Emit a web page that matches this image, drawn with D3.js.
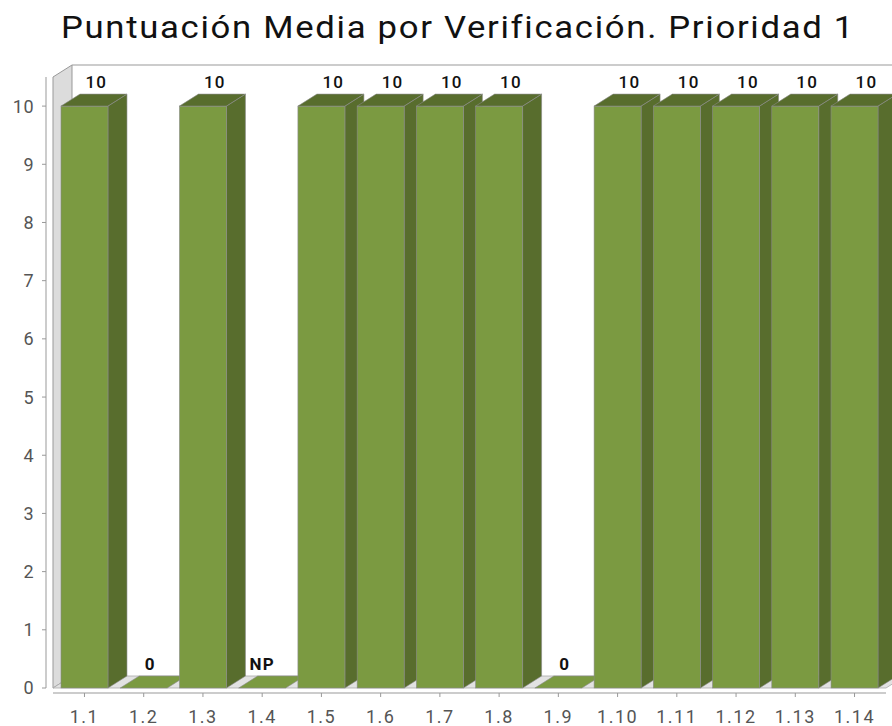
<!DOCTYPE html>
<html>
<head>
<meta charset="utf-8">
<script src="https://cdn.jsdelivr.net/npm/d3@7"></script>
<style>
  body { margin: 0; background: #fff; }
  text { font-family: Roboto, "Noto Sans", sans-serif; }
</style>
</head>
<body>
<svg width="892" height="726"></svg>
<script>
var categories = ["1.1", "1.2", "1.3", "1.4", "1.5", "1.6", "1.7", "1.8", "1.9", "1.10", "1.11", "1.12", "1.13", "1.14"];
// "NP" = no puntuado, drawn as a flat bar
var values = [10, 0, 10, "NP", 10, 10, 10, 10, 0, 10, 10, 10, 10, 10];
var yTicks = [0, 1, 2, 3, 4, 5, 6, 7, 8, 9, 10];
var title = "Puntuación Media por Verificación. Prioridad 1";

var svg = d3.select("svg"),
    width = +svg.attr("width"),
    height = +svg.attr("height");

// 3d depth offset
var dx = 19, dy = 12;
var front = {left: 53, right: 886, top: 77, bottom: 688};

var x = d3.scaleBand()
    .domain(categories)
    .range([front.left, front.right])
    .paddingInner(0.207)
    .paddingOuter(0.135);

var y = d3.scaleLinear()
    .domain([0, 10.5])
    .range([front.bottom, front.top]);

var green = "#7b9a41", darkGreen = "#586d2d", edge = "#8a8a8a";

function num(v) { return v === "NP" ? 0 : v; }

// title (text in the original is a bit stretched)
svg.append("text")
    .attr("transform", "translate(458,38) scale(1.12,1)")
    .attr("text-anchor", "middle")
    .style("font-size", "31px")
    .style("letter-spacing", "1.5px")
    .style("fill", "#111")
    .text(title);

// left wall
svg.append("path")
    .attr("d", "M" + front.left + "," + front.bottom +
      "L" + front.left + "," + front.top +
      "L" + (front.left + dx) + "," + (front.top - dy) +
      "L" + (front.left + dx) + "," + (front.bottom - dy) + "Z")
    .style("fill", "#dcdcdc")
    .style("stroke", "#999")
    .style("stroke-width", 1);

// back wall top edge
svg.append("line")
    .attr("x1", front.left + dx).attr("y1", front.top - dy)
    .attr("x2", width).attr("y2", front.top - dy)
    .style("stroke", "#999");

// floor
svg.append("path")
    .attr("d", "M" + front.left + "," + front.bottom +
      "L" + (front.left + dx) + "," + (front.bottom - dy) +
      "L" + (front.right + dx) + "," + (front.bottom - dy) +
      "L" + front.right + "," + front.bottom + "Z")
    .style("fill", "#e2e2e2")
    .style("stroke", "#aaa")
    .style("stroke-width", 0.8);

//bars
var bars = svg.append("g")
  .selectAll("g")
  .data(categories.map(function(c, i) { return {cat: c, value: values[i]}; }))
  .enter().append("g");

bars.each(function(d) {
  var g = d3.select(this),
      x0 = x(d.cat),
      x1 = x0 + x.bandwidth(),
      yt = y(num(d.value)),
      yb = y(0),
      flat = num(d.value) === 0;

  if (!flat) {
    // side
    g.append("path")
      .attr("d", "M" + x1 + "," + yb + "L" + x1 + "," + yt +
        "L" + (x1 + dx) + "," + (yt - dy) + "L" + (x1 + dx) + "," + (yb - dy) + "Z")
      .style("fill", darkGreen).style("stroke", edge).style("stroke-width", 0.6);
    // front
    g.append("rect")
      .attr("x", x0).attr("y", yt)
      .attr("width", x.bandwidth()).attr("height", yb - yt)
      .style("fill", green).style("stroke", edge).style("stroke-width", 0.6);
  }
  // top
  g.append("path")
    .attr("d", "M" + x0 + "," + yt + "L" + (x0 + dx) + "," + (yt - dy) +
      "L" + (x1 + dx) + "," + (yt - dy) + "L" + x1 + "," + yt + "Z")
    .style("fill", flat ? green : darkGreen)
    .style("stroke", edge).style("stroke-width", 0.6);
});

// value labels
bars.append("text")
    .attr("x", function(d) {
      var c = x(d.cat) + x.bandwidth() / 2;
      return d.value === "NP" ? c : c + 1;
    })
    .attr("y", function(d) { return y(num(d.value)) - dy - 6; })
    .attr("text-anchor", function(d) { return d.value === "NP" ? "middle" : "start"; })
    .style("font-size", "17px")
    .style("letter-spacing", "1.2px")
    .style("font-weight", function(d) { return num(d.value) === 0 ? "bold" : "500"; })
    .style("fill", "#111")
    .text(function(d) { return d.value; });

// y axis
var yAxis = svg.append("g");
yAxis.append("line")
    .attr("x1", 46).attr("x2", 46)
    .attr("y1", front.top).attr("y2", front.bottom)
    .style("stroke", "#999");
yAxis.selectAll("line.tick")
  .data(yTicks)
  .enter().append("line")
    .attr("class", "tick")
    .attr("x1", 42).attr("x2", 46)
    .attr("y1", function(d) { return y(d); })
    .attr("y2", function(d) { return y(d); })
    .style("stroke", "#999");
yAxis.selectAll("text")
  .data(yTicks)
  .enter().append("text")
    .attr("x", 34)
    .attr("y", function(d) { return y(d); })
    .attr("dy", "0.36em")
    .attr("text-anchor", "end")
    .style("font-size", "18px")
    .style("letter-spacing", "0.5px")
    .style("fill", "#555")
    .text(function(d) { return d; });

// category axis
var xAxis = svg.append("g");
xAxis.append("line")
    .attr("x1", front.left).attr("x2", front.right)
    .attr("y1", 693).attr("y2", 693)
    .style("stroke", "#999");
xAxis.selectAll("line.tick")
  .data(categories)
  .enter().append("line")
    .attr("class", "tick")
    .attr("x1", function(d) { return x(d) + x.bandwidth() / 2; })
    .attr("x2", function(d) { return x(d) + x.bandwidth() / 2; })
    .attr("y1", 693).attr("y2", 697)
    .style("stroke", "#999");
xAxis.selectAll("text")
  .data(categories)
  .enter().append("text")
    .attr("x", function(d) { return x(d) + x.bandwidth() / 2; })
    .attr("y", 723)
    .attr("text-anchor", "middle")
    .style("font-size", "18px")
    .style("letter-spacing", "1.5px")
    .style("fill", "#555")
    .text(function(d) { return d; });
</script>
</body>
</html>
